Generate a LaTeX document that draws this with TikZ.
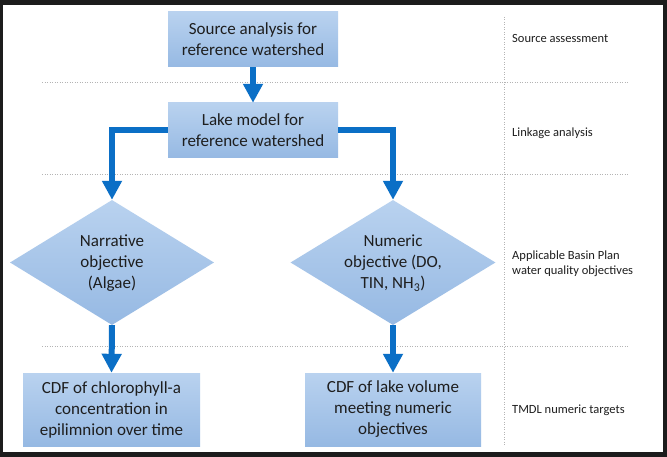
\documentclass[tikz,border=0pt]{standalone}
\usepackage{fontspec}
\setmainfont{Carlito}
\usetikzlibrary{shapes.geometric,arrows.meta}
\definecolor{arrowblue}{HTML}{0B6FC6}
\definecolor{boxtop}{HTML}{B9D2EF}
\definecolor{boxbot}{HTML}{96B9E3}
\definecolor{txt}{HTML}{1E1E1E}
\definecolor{gridgray}{HTML}{B4B4B4}
\definecolor{framebg}{HTML}{1C1C1C}
\begin{document}
\begin{tikzpicture}[x=1pt,y=-1pt,
  boxnode/.style={rectangle, top color=boxtop, bottom color=boxbot, draw=none,
    align=center, inner sep=0pt, text=txt, font=\fontsize{17}{21}\selectfont},
  dianode/.style={diamond, top color=boxtop, bottom color=boxbot, draw=none,
    inner sep=0pt, minimum width=204pt, minimum height=125pt, shape aspect=1.63},
  diatext/.style={align=center, inner sep=0pt, text=txt, font=\fontsize{17}{21}\selectfont},
  labnode/.style={anchor=west, align=left, inner sep=0pt, text=txt, font=\fontsize{12.5}{15.5}\selectfont},
  arr/.style={draw=arrowblue, line width=6pt, -{Triangle[width=19pt,length=19pt]}},
  sepline/.style={draw=gridgray, line width=0.9pt, dash pattern=on 0.9pt off 1.6pt}
]
\useasboundingbox (0,0) rectangle (667,457);
\fill[framebg] (0,0) rectangle (667,457);
\fill[white] (3,5) rectangle (663,452);

% separators
\draw[sepline] (42,82) -- (629,82);
\draw[sepline] (42,174) -- (629,174);
\draw[sepline] (42,346) -- (629,346);
\draw[sepline] (504,17) -- (504,446);

% boxes
\node[boxnode, minimum width=170pt, minimum height=55pt] (src) at (253,39.5) {Source analysis for\\reference watershed};
\node[boxnode, minimum width=170pt, minimum height=55pt] (lake) at (253,130.5) {Lake model for\\reference watershed};
\node[dianode] (narr) at (112,262.5) {};
\node[diatext] (narrt) at (112,263) {Narrative\\objective\\(Algae)};
\node[dianode, minimum width=205pt] (num) at (393,262.5) {};
\node[diatext] (numt) at (393,263) {Numeric\\objective (DO,\\TIN, NH\textsubscript{3})};
\node[boxnode, minimum width=177pt, minimum height=73pt] (cdfc) at (111.5,409.5) {CDF of chlorophyll-a\\concentration in\\epilimnion over time};
\node[boxnode, minimum width=176pt, minimum height=73pt] (cdfl) at (393,409.5) {CDF of lake volume\\meeting numeric\\objectives};

% arrows
\draw[arr] (src.south) -- (lake.north);
\draw[arr] (lake.west) -| (narr.north);
\draw[arr] (lake.east) -| (num.north);
\draw[arr] (narr.south) -- (cdfc.north);
\draw[arr] (num.south) -- (cdfl.north);

% labels
\node[labnode] (l1) at (512,38) {Source assessment};
\node[labnode] (l2) at (512,133) {Linkage analysis};
\node[labnode] (l3) at (512,263.5) {Applicable Basin Plan\\water quality objectives};
\node[labnode] (l4) at (512,410) {TMDL numeric targets};
\end{tikzpicture}
\end{document}
